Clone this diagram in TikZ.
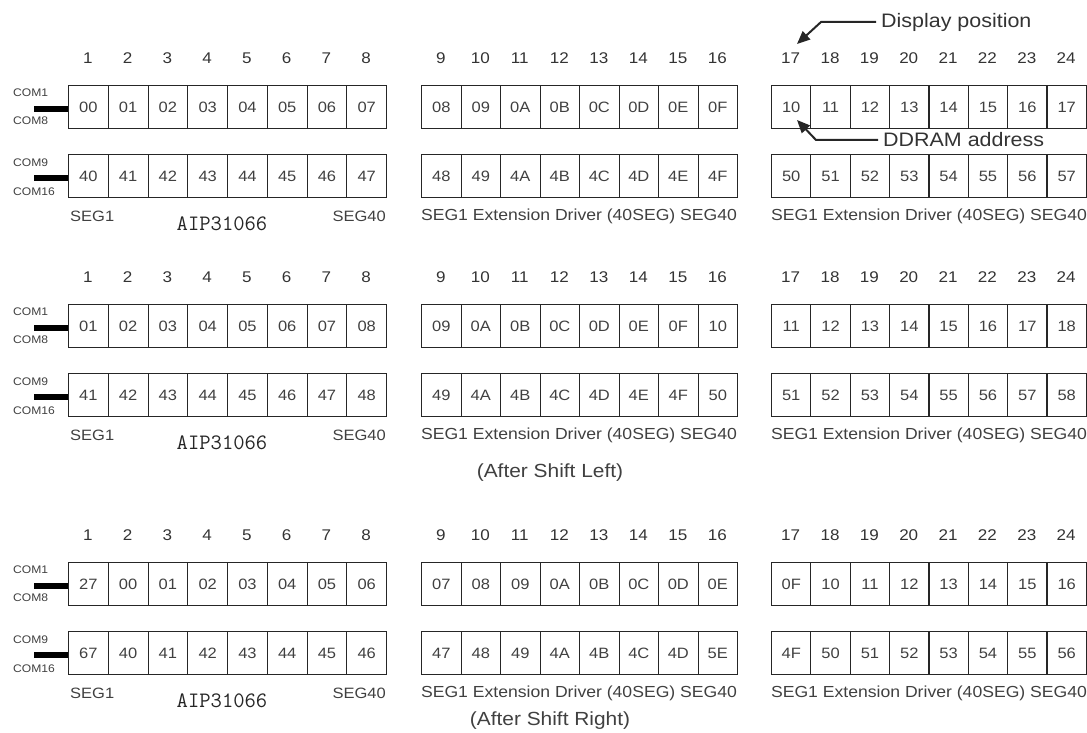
\documentclass[tikz,border=0pt]{standalone}
\usepackage{fontspec}
\setmainfont{Liberation Sans}[FakeStretch=1.1]
\usetikzlibrary{arrows.meta}
\newcommand\drawsec[4]{%
  \foreach \v [count=\i] in {#3} {
    \pgfmathtruncatemacro\blk{int((\i-1)/8)}
    \pgfmathtruncatemacro\col{mod(\i-1,8)}
    \pgfmathsetmacro\cL{{68,421,771}[\blk]}
    \pgfmathsetmacro\cw{{39.75,39.5,39.35}[\blk]}
    \pgfmathsetmacro\cx{\cL+\col*\cw}
    \node[cell, minimum width=\cw pt, minimum height=43pt] (a#1-\i) at (\cx,#2+27) {\v};
    \node[colnum] (n#1-\i) at (\cx+\cw/2,#2) {\i};
  }
  \foreach \v [count=\i] in {#4} {
    \pgfmathtruncatemacro\blk{int((\i-1)/8)}
    \pgfmathtruncatemacro\col{mod(\i-1,8)}
    \pgfmathsetmacro\cL{{68,421,771}[\blk]}
    \pgfmathsetmacro\cw{{39.75,39.5,39.35}[\blk]}
    \pgfmathsetmacro\cx{\cL+\col*\cw}
    \node[cell, minimum width=\cw pt, minimum height=43pt] (b#1-\i) at (\cx,#2+96) {\v};
  }
  \node[com] (ca#1) at (13,#2+35) {COM1};
  \node[com] (cb#1) at (13,#2+63) {COM8};
  \node[com] (cc#1) at (13,#2+105) {COM9};
  \node[com] (cd#1) at (13,#2+134) {COM16};
  \node[bar] (ba#1) at ([yshift=-2pt]a#1-1.west) {};
  \node[bar] (bb#1) at ([yshift=-2pt]b#1-1.west) {};
  \node[seg, anchor=west] (sa#1) at (70,#2+158) {SEG1};
  \node[seg, anchor=east] (sb#1) at (386,#2+158) {SEG40};
  \node[chip] (chip#1) at (222,#2+166) {AIP31066};
  \node[ext] (ea#1) at (579,#2+158) {SEG1 Extension Driver (40SEG) SEG40};
  \node[ext] (eb#1) at (929,#2+158) {SEG1 Extension Driver (40SEG) SEG40};
}
\begin{document}
\begin{tikzpicture}[x=1pt,y=-1pt,
  cell/.style={draw=black!85, line width=1.1pt, inner sep=0pt, anchor=north west,
    text=black!75, font=\fontsize{15}{16}\selectfont},
  colnum/.style={text=black!80, font=\fontsize{15.5}{16}\selectfont, inner sep=0pt},
  com/.style={font=\fontsize{11}{12}\selectfont, text=black!75, inner sep=0pt, anchor=west},
  bar/.style={fill=black, inner sep=0pt, minimum width=34pt, minimum height=6.5pt, anchor=east},
  seg/.style={font=\fontsize{15}{16}\selectfont, text=black!75, inner sep=0pt},
  ext/.style={font=\fontsize{16}{17}\selectfont, text=black!75, inner sep=0pt},
  shiftlabel/.style={font=\fontsize{19}{20}\selectfont, text=black!75, inner sep=0pt},
  chip/.style={font=\fontsize{22}{23}\ttfamily, text=black!85, inner sep=0pt},
  note/.style={font=\fontsize{19.5}{20}\selectfont, text=black!80, inner sep=0pt, anchor=west},
  arr/.style={line width=2pt, draw=black!85, -{Triangle[length=13pt,width=11pt]}}]
\path[use as bounding box] (0,0) rectangle (1087,733);
\drawsec{1}{58}{00,01,02,03,04,05,06,07,08,09,0A,0B,0C,0D,0E,0F,10,11,12,13,14,15,16,17}{40,41,42,43,44,45,46,47,48,49,4A,4B,4C,4D,4E,4F,50,51,52,53,54,55,56,57}
\drawsec{2}{277}{01,02,03,04,05,06,07,08,09,0A,0B,0C,0D,0E,0F,10,11,12,13,14,15,16,17,18}{41,42,43,44,45,46,47,48,49,4A,4B,4C,4D,4E,4F,50,51,52,53,54,55,56,57,58}
\drawsec{3}{535}{27,00,01,02,03,04,05,06,07,08,09,0A,0B,0C,0D,0E,0F,10,11,12,13,14,15,16}{67,40,41,42,43,44,45,46,47,48,49,4A,4B,4C,4D,5E,4F,50,51,52,53,54,55,56}
\node[shiftlabel] (shl) at (550,473) {(After Shift Left)};
\node[shiftlabel] (shr) at (550,721) {(After Shift Right)};
\node[note] (dp) at (881,22) {Display position};
\coordinate (dptip) at (797,44);
\draw[arr] ([xshift=-5pt]dp.west) -- ++(-55,0) -- (dptip);
\node[note] (dd) at (883,140) {DDRAM address};
\coordinate (ddtip) at (797,120);
\draw[arr] ([xshift=-5pt]dd.west) -- ++(-62,0) -- (ddtip);
\end{tikzpicture}
\end{document}
